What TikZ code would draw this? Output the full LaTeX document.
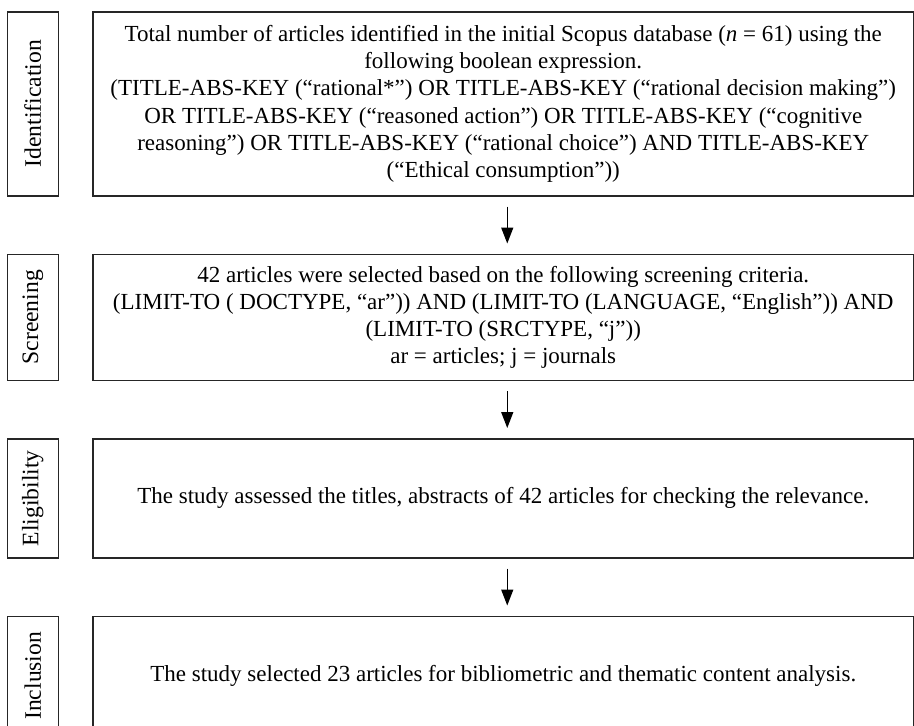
\documentclass[tikz,border=0pt]{standalone}
\usepackage{fontspec}
\setmainfont{Liberation Serif}
\usepackage{graphicx}
\usepackage{tikz}
\usetikzlibrary{positioning}
\usetikzlibrary{arrows.meta}

\tikzset{
  mainbox/.style={draw=black!85, line width=.75pt, minimum width=410.5pt, align=center, inner sep=0pt, font=\fontsize{11.5}{13.6}\selectfont},
  sidebox/.style={draw=black!85, line width=.75pt, minimum width=25.5pt, inner sep=0pt, font=\fontsize{11.8}{13.6}\selectfont},
  flow/.style={-{Triangle[length=8pt,width=6pt]}, color=black, line width=.7pt, shorten <=5pt, shorten >=5pt}
}

\begin{document}
\begin{tikzpicture}
\path[use as bounding box, clip] (0,0) rectangle (457pt,-362.5pt);

\node(a)[mainbox, minimum height=92pt, anchor=north west] at (46pt,-5.5pt) {Total number of articles identified in the initial Scopus database (\textit{n} = 61) using the\\
following boolean expression.\\
(TITLE-ABS-KEY (“rational*”) OR TITLE-ABS-KEY (“rational decision making”)\\
OR TITLE-ABS-KEY (“reasoned action”) OR TITLE-ABS-KEY (“cognitive\\
reasoning”) OR TITLE-ABS-KEY (“rational choice”) AND TITLE-ABS-KEY\\
(“Ethical consumption”))};

\node(b)[mainbox, minimum height=63pt, below=28.5pt of a] {42 articles were selected based on the following screening criteria.\\
(LIMIT-TO ( DOCTYPE, “ar”)) AND (LIMIT-TO (LANGUAGE, “English”)) AND\\
(LIMIT-TO (SRCTYPE, “j”))\\
ar = articles; j = journals};

\node(c)[mainbox, minimum height=59.5pt, below=28.5pt of b] {The study assessed the titles, abstracts of 42 articles for checking the relevance.};

\node(d)[mainbox, minimum height=59.5pt, below=28.5pt of c] {The study selected 23 articles for bibliometric and thematic content analysis.};

\node(A)[sidebox, minimum height=92pt, left=16.5pt of a] {\rotatebox{90}{Identification}};
\node(B)[sidebox, minimum height=63pt, left=16.5pt of b] {\rotatebox{90}{Screening}};
\node(C)[sidebox, minimum height=59.5pt, left=16.5pt of c] {\rotatebox{90}{Eligibility}};
\node(D)[sidebox, minimum height=59.5pt, left=16.5pt of d] {\rotatebox{90}{Inclusion}};

\draw[flow] ([xshift=2pt]a.south)--([xshift=2pt]b.north);
\draw[flow] ([xshift=2pt]b.south)--([xshift=2pt]c.north);
\draw[flow] ([xshift=2pt]c.south)--([xshift=2pt]d.north);
\end{tikzpicture}
\end{document}
